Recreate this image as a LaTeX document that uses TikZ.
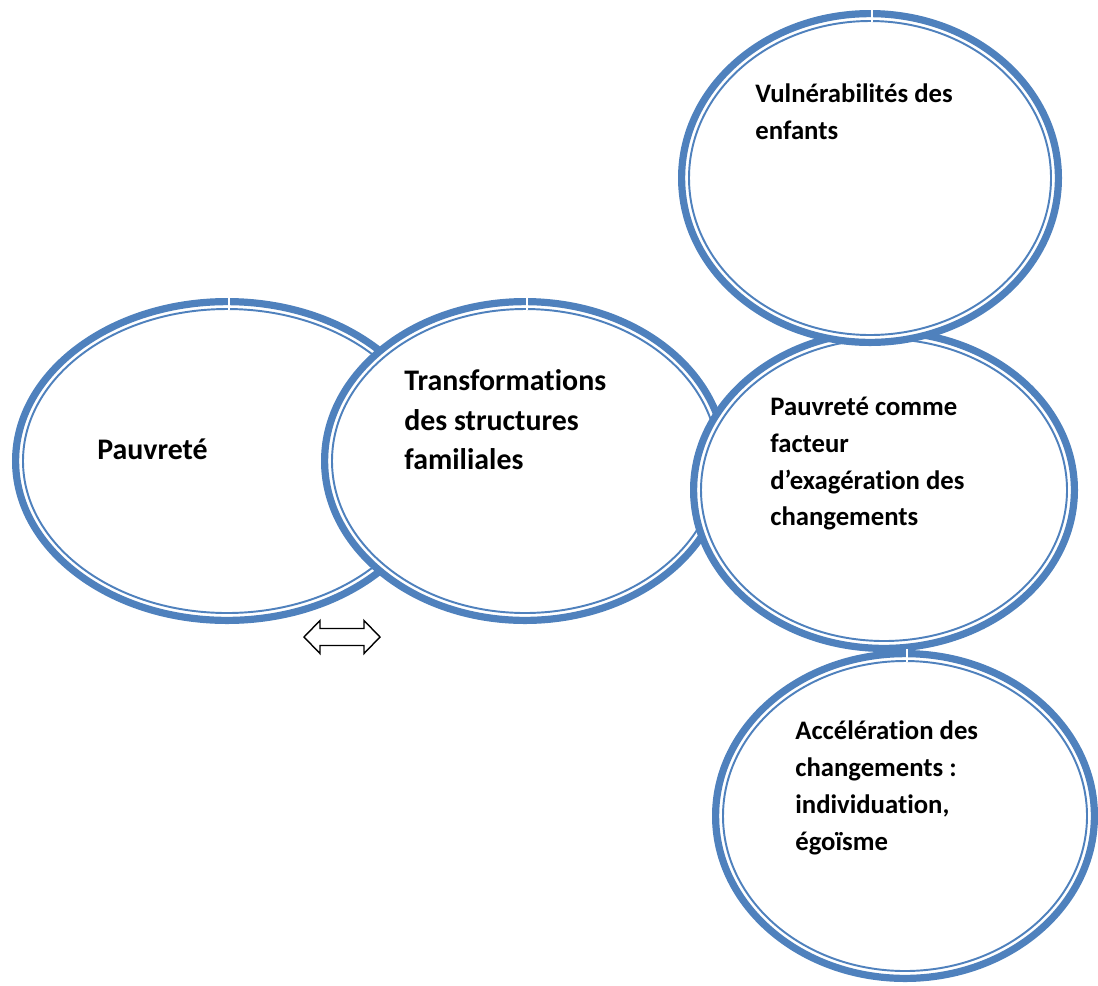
\documentclass[tikz,border=0pt]{standalone}
\usepackage{fontspec}
\setmainfont[RawFeature=-liga]{Carlito}
\definecolor{ringblue}{HTML}{4F81BD}
\begin{document}
\begin{tikzpicture}[
  x=0.02cm, y=-0.02cm,
  ringout/.style={draw=ringblue,line width=4.1pt,fill=white},
  ringin/.style={draw=ringblue,line width=1.1pt},
  notch/.style={draw=white,line width=1.2pt},
  label/.style={anchor=north west,inner sep=0pt,align=left,
    font=\fontsize{15.2}{21}\selectfont\bfseries},
  biglabel/.style={label,font=\fontsize{17}{22.6}\selectfont\bfseries},
  arrowline/.style={draw=black,line width=0.8pt,fill=white,line join=miter}]
\useasboundingbox (0,0) rectangle (1098,985);
% rings, back to front
\foreach \cx/\cy/\rx/\ry in {227/461/215/163, 525/461/204/163,
    884/490/194/162, 870/178/192/168, 905/816/193/166} {
  \draw[ringout] (\cx,\cy) ellipse [x radius=\rx-3.6, y radius=\ry-3.6];
  \draw[ringin] (\cx,\cy) ellipse [x radius=\rx-11, y radius=\ry-11];
  \draw[notch] (\cx+2,\cy-\ry-1) -- (\cx+2,\cy-\ry+12);
}
% texts
\node[biglabel] (pauv) at (97,438.5) {Pauvreté};
\node[biglabel] (trans) at (404,369) {Transformations\\des structures\\familiales};
\node[label] (vuln) at (755,83.5) {Vulnérabilités des\\enfants};
\node[label] (fact) at (770,396.5) {Pauvreté comme\\facteur\\d’exagération des\\changements};
\node[label] (accel) at (795,720.5) {Accélération des\\changements :\\individuation,\\égoïsme};
% double arrow
\coordinate (dbl) at (342,637);
\draw[arrowline,shift={(dbl)}] (-38,0) -- (-22,-16.5) -- (-22,-8.5) -- (22,-8.5)
  -- (22,-16.5) -- (38,0) -- (22,16.5) -- (22,8.5) -- (-22,8.5) -- (-22,16.5) -- cycle;
\end{tikzpicture}
\end{document}
